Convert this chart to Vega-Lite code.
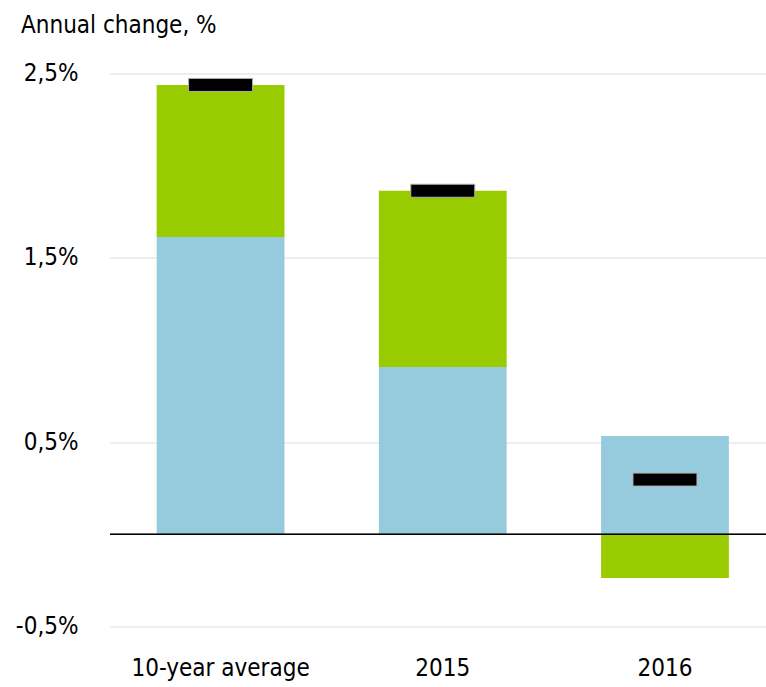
{
  "$schema": "https://vega.github.io/schema/vega-lite/v6.json",
  "width": 656,
  "height": 553,
  "autosize": "none",
  "padding": {"left": 110, "top": 73.5, "right": 0, "bottom": 60.5},
  "background": "white",
  "config": {
    "font": "DejaVu Sans Condensed, DejaVu Sans",
    "view": {"stroke": null}
  },
  "title": {
    "text": "Annual change, %",
    "anchor": "start",
    "frame": "group",
    "fontSize": 24,
    "fontWeight": "normal",
    "color": "black",
    "dx": -89,
    "offset": 5,
    "baseline": "alphabetic"
  },
  "datasets": {
    "parts": [
      {"period": "10-year average", "component": "A", "order": 1, "value": 1.613},
      {"period": "10-year average", "component": "B", "order": 2, "value": 0.825},
      {"period": "2015", "component": "A", "order": 1, "value": 0.908},
      {"period": "2015", "component": "B", "order": 2, "value": 0.956},
      {"period": "2016", "component": "A", "order": 1, "value": 0.534},
      {"period": "2016", "component": "B", "order": 2, "value": -0.2375}
    ],
    "totals": [
      {"period": "10-year average", "total": 2.438},
      {"period": "2015", "total": 1.864},
      {"period": "2016", "total": 0.297}
    ]
  },
  "layer": [
    {
      "data": {"name": "parts"},
      "mark": {"type": "bar"},
      "encoding": {
        "x": {
          "field": "period",
          "type": "nominal",
          "sort": null,
          "scale": {"paddingInner": 0.4248, "paddingOuter": 0.1886, "align": 0.557},
          "axis": {
            "title": null,
            "labelAngle": 0,
            "labelFontSize": 24,
            "labelColor": "black",
            "labelPadding": 30,
            "labelLimit": 0,
            "ticks": false,
            "domain": false,
            "grid": false
          }
        },
        "y": {
          "field": "value",
          "type": "quantitative",
          "stack": "zero",
          "scale": {"domain": [-0.5, 2.5], "nice": false, "zero": false},
          "axis": {
            "title": null,
            "values": [-0.5, 0.5, 1.5, 2.5],
            "labelExpr": "replace(replace(format(datum.value, '.1f'), '.', ','), '\u2212', '-') + '%'",
            "labelFontSize": 24,
            "labelColor": "black",
            "labelPadding": 32,
            "ticks": false,
            "domain": false,
            "grid": true,
            "gridColor": "#dcdcdc",
            "gridWidth": 1.2
          }
        },
        "color": {
          "field": "component",
          "type": "nominal",
          "scale": {"domain": ["A", "B"], "range": ["#96cbdd", "#99cc00"]},
          "legend": null
        },
        "order": {"field": "order", "type": "quantitative"}
      }
    },
    {
      "data": {"name": "totals"},
      "mark": {"type": "tick", "orient": "horizontal", "size": 64, "thickness": 13, "color": "black", "stroke": "#b0b0b0", "strokeWidth": 1, "opacity": 1},
      "encoding": {
        "x": {"field": "period", "type": "nominal", "sort": null},
        "y": {"field": "total", "type": "quantitative"}
      }
    },
    {
      "data": {"name": "totals"},
      "mark": {"type": "rule", "color": "black", "strokeWidth": 1.4},
      "encoding": {
        "y": {"datum": 0}
      }
    }
  ]
}
